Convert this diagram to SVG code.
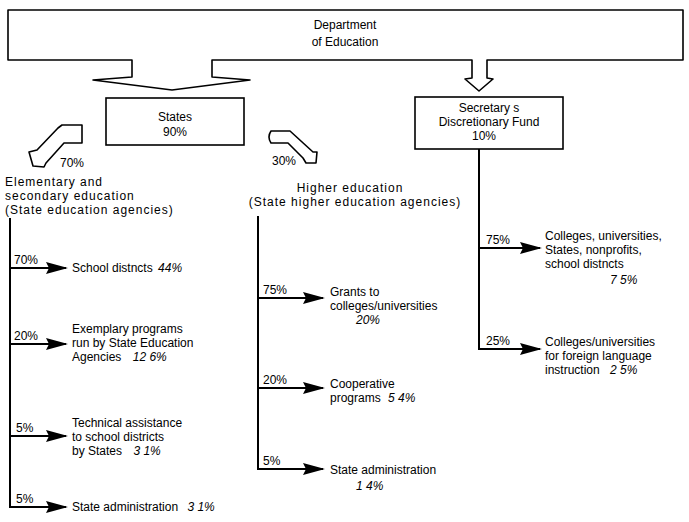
<svg xmlns="http://www.w3.org/2000/svg" width="689" height="522" viewBox="0 0 689 522">
<style>
text{font-family:"Liberation Sans",Arial,sans-serif;font-size:12px;fill:#000}
.c{text-anchor:middle}
.i{font-style:italic}
.w{letter-spacing:1px}
.box{fill:#fff;stroke:#000;stroke-width:1.6}
.ln{fill:none;stroke:#000;stroke-width:2}
.blk{fill:#fff;stroke:#000;stroke-width:1.6;stroke-linejoin:round}
</style>
<defs>
<marker id="ah" viewBox="0 0 22 12" markerWidth="22" markerHeight="12" refX="20" refY="6" orient="auto" markerUnits="userSpaceOnUse">
<path d="M0,0 L22,6 L0,12 L3,6 Z" fill="#000"/>
</marker>
</defs>
<rect width="689" height="522" fill="#fff"/>

<g id="department">
<path class="blk" d="M8,10 L683,10 L683,60 L487,60 L487,78 L493,79 L479,91 L465,79 L472,78 L472,60 L212,60 L212,77 L250,80 L172,90 L93,80 L132,77 L132,60 L8,60 Z"/>
<text class="c" x="345" y="29">Department</text>
<text class="c" x="345" y="46">of Education</text>
</g>

<g id="states">
<rect class="box" x="106" y="98" width="138" height="47"/>
<text class="c" x="175" y="121">States</text>
<text class="c" x="175" y="136">90%</text>
</g>

<g id="secretary">
<rect class="box" x="415" y="97" width="148" height="52"/>
<text class="c" x="489" y="112">Secretary s</text>
<text class="c" x="489" y="126">Discretionary Fund</text>
<text class="c" x="484" y="140">10%</text>
</g>

<g id="elementary">
<text class="w" x="5" y="186">Elementary and</text>
<text class="w" x="5" y="200">secondary education</text>
<text class="w" x="5" y="214">(State education agencies)</text>
</g>

<g id="higher">
<text class="c w" x="350" y="192">Higher education</text>
<text class="c w" x="355" y="206">(State higher education agencies)</text>
</g>

<g id="school-districts">
<text x="72" y="272">School distncts <tspan class="i" dx="2">44%</tspan></text>
</g>
<g id="exemplary">
<text x="72" y="333">Exemplary programs</text>
<text x="72" y="347">run by State Education</text>
<text x="72" y="361">Agencies <tspan class="i" dx="8">12 6%</tspan></text>
</g>
<g id="technical">
<text x="72" y="427">Technical assistance</text>
<text x="72" y="441">to school districts</text>
<text x="72" y="455">by States <tspan class="i" dx="8">3 1%</tspan></text>
</g>
<g id="state-admin-el">
<text x="72" y="511">State administration <tspan class="i" dx="6">3 1%</tspan></text>
</g>

<g id="grants">
<text x="330" y="296">Grants to</text>
<text x="330" y="310">colleges/universities</text>
<text class="i" x="356" y="324">20%</text>
</g>
<g id="cooperative">
<text x="330" y="388">Cooperative</text>
<text x="330" y="402">programs <tspan class="i" dx="4">5 4%</tspan></text>
</g>
<g id="state-admin-hi">
<text x="330" y="474">State administration</text>
<text class="i" x="356" y="490">1 4%</text>
</g>

<g id="colleges-states">
<text x="545" y="240">Colleges, universities,</text>
<text x="545" y="254">States, nonprofits,</text>
<text x="545" y="268">school distncts</text>
<text class="i" x="610" y="284">7 5%</text>
</g>
<g id="foreign-language">
<text x="545" y="346">Colleges/universities</text>
<text x="545" y="360">for foreign language</text>
<text x="545" y="374">instruction <tspan class="i" x="610">2 5%</tspan></text>
</g>

<g id="connectors">
<path class="blk" d="M62,125 L82,125 L82,143 L64,143 L46,163 L44,167 L33,166 L29,152 L37,150 L58,128 Z"/>
<text x="60" y="167">70%</text>
<path class="blk" d="M271,131 L290,131 L313,152 L317,152 L316,163 L306,163 L303,158 L288,143 L271,143 Q267,137 271,131 Z"/>
<text x="272" y="165">30%</text>

<path class="ln" d="M10,218 L10,507 L66,507" marker-end="url(#ah)"/>
<path class="ln" d="M10,268 L66,268" marker-end="url(#ah)"/>
<path class="ln" d="M10,344 L66,344" marker-end="url(#ah)"/>
<path class="ln" d="M10,436 L66,436" marker-end="url(#ah)"/>
<text x="14" y="264">70%</text>
<text x="14" y="340">20%</text>
<text x="16" y="432">5%</text>
<text x="16" y="503">5%</text>

<path class="ln" d="M258,216 L258,469 L323,469" marker-end="url(#ah)"/>
<path class="ln" d="M258,298 L323,298" marker-end="url(#ah)"/>
<path class="ln" d="M258,388 L323,388" marker-end="url(#ah)"/>
<text x="263" y="294">75%</text>
<text x="263" y="384">20%</text>
<text x="263" y="465">5%</text>

<path class="ln" d="M479,149 L479,349 L540,349" marker-end="url(#ah)"/>
<path class="ln" d="M479,248 L540,248" marker-end="url(#ah)"/>
<text x="486" y="244">75%</text>
<text x="486" y="345">25%</text>
</g>
</svg>
